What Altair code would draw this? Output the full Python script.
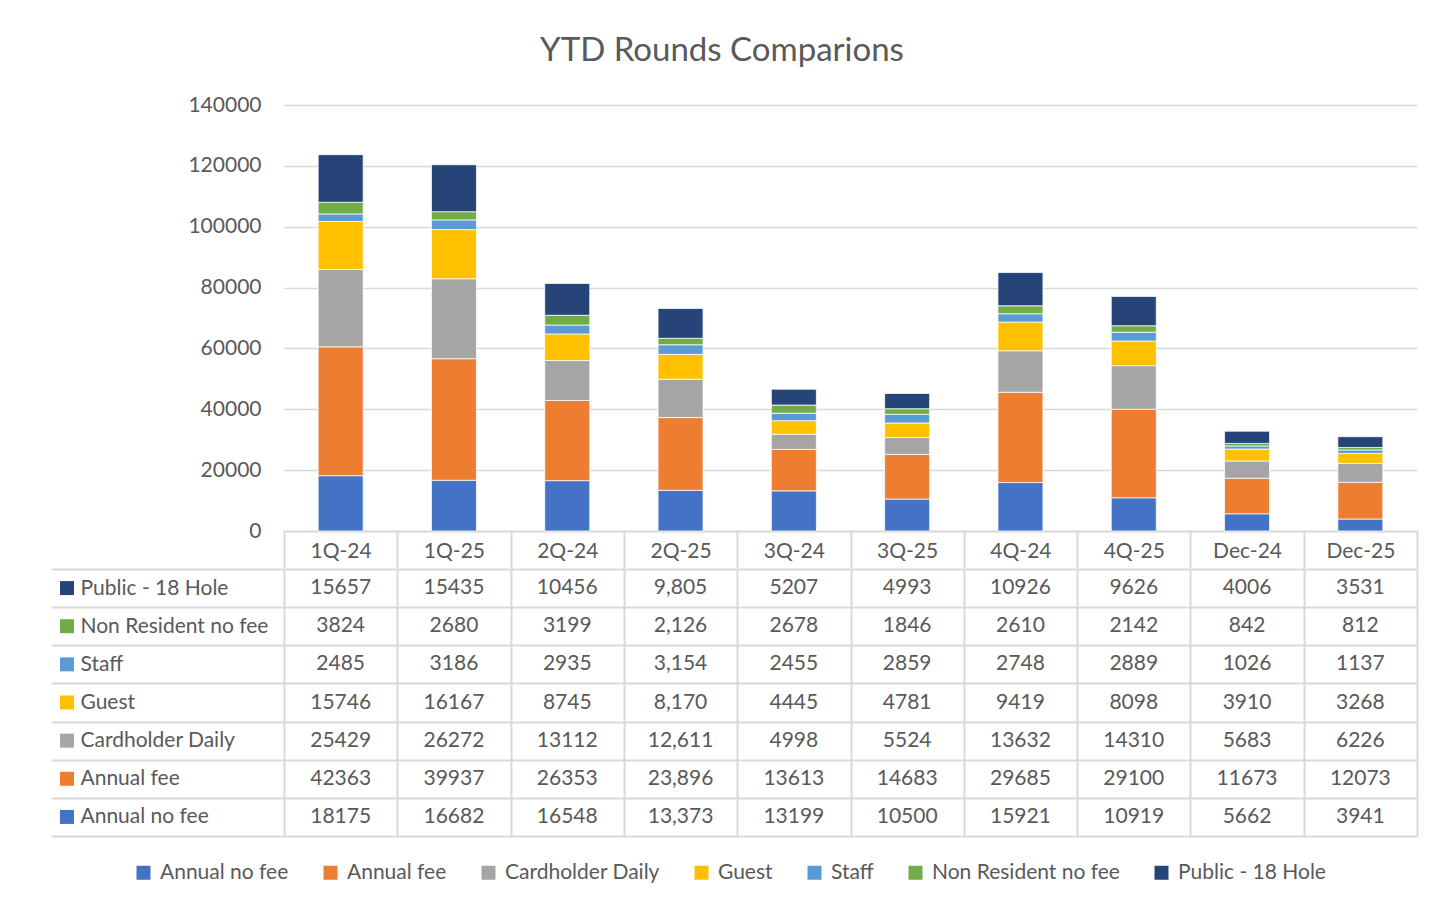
import altair as alt
import pandas as pd

# ---------------- data ----------------
categories = ["1Q-24", "1Q-25", "2Q-24", "2Q-25", "3Q-24", "3Q-25", "4Q-24", "4Q-25", "Dec-24", "Dec-25"]
series = ["Annual no fee", "Annual fee", "Cardholder Daily", "Guest", "Staff",
          "Non Resident no fee", "Public - 18 Hole"]
colors = ["#4472C4", "#ED7D31", "#A5A5A5", "#FFC000", "#5B9BD5", "#70AD47", "#264478"]

annual_no_fee = [18175, 16682, 16548, 13373, 13199, 10500, 15921, 10919, 5662, 3941]
annual_fee = [42363, 39937, 26353, 23896, 13613, 14683, 29685, 29100, 11673, 12073]
cardholder_daily = [25429, 26272, 13112, 12611, 4998, 5524, 13632, 14310, 5683, 6226]
guest = [15746, 16167, 8745, 8170, 4445, 4781, 9419, 8098, 3910, 3268]
staff = [2485, 3186, 2935, 3154, 2455, 2859, 2748, 2889, 1026, 1137]
non_resident_no_fee = [3824, 2680, 3199, 2126, 2678, 1846, 2610, 2142, 842, 812]
public_18_hole = [15657, 15435, 10456, 9805, 5207, 4993, 10926, 9626, 4006, 3531]

# the column whose values are printed with a thousands separator in the table
comma_columns = ["2Q-25"]

y_ticks = [0, 20000, 40000, 60000, 80000, 100000, 120000, 140000]

# ---------------- table ----------------
values_by_series = [annual_no_fee, annual_fee, cardholder_daily, guest, staff,
                    non_resident_no_fee, public_18_hole]
rows = []
for si, (name, vals) in enumerate(zip(series, values_by_series)):
    for cat, v in zip(categories, vals):
        rows.append({
            "series": name,
            "idx": si,
            "cat": cat,
            "value": v,
            "label": f"{v:,}" if cat in comma_columns else str(v),
        })
df = pd.DataFrame(rows)
sq_df = pd.DataFrame({"series": series})
row_order = list(reversed(series))

FONT = "Lato"
TXT = "#595959"
GRID = "#D9D9D9"
FS = 21

color_scale = alt.Scale(domain=series, range=colors)
band = alt.Scale(paddingInner=0, paddingOuter=0)

bars = alt.Chart(df).mark_bar(size=45, stroke="white", strokeWidth=0.75).encode(
    x=alt.X("cat:N", sort=categories, scale=band,
            axis=alt.Axis(title=None, labelAngle=0, labelFontSize=FS, labelColor=TXT, labelFont=FONT,
                          tickBand="extent", ticks=True, tickSize=37, tickColor=GRID, tickWidth=2,
                          domainColor=GRID, domainWidth=2, labelPadding=-28, grid=False)),
    y=alt.Y("value:Q", stack="zero", scale=alt.Scale(domain=[0, 140000], nice=False),
            axis=alt.Axis(title=None, values=y_ticks, format="d", labelFontSize=FS, labelColor=TXT,
                          labelFont=FONT, labelPadding=23, ticks=False, domain=False,
                          gridColor=GRID, gridWidth=1.5)),
    color=alt.Color("series:N", scale=color_scale,
                    legend=alt.Legend(title=None, orient="none", legendX=-151, legendY=757,
                                      direction="horizontal", symbolType="square", symbolSize=196,
                                      symbolStrokeWidth=0, symbolOpacity=1, labelFontSize=FS,
                                      labelColor=TXT, labelFont=FONT, labelOffset=6,
                                      columnPadding=31, labelLimit=400)),
    order=alt.Order("idx:Q", sort="ascending"),
).properties(width=1133, height=426)

y_table = alt.Y("series:N", sort=row_order, scale=band,
                axis=alt.Axis(title=None, labelAlign="left", labelPadding=-29, tickSize=233,
                              tickBand="extent", tickColor=GRID, tickWidth=2, grid=True,
                              gridColor=GRID, gridWidth=2, domain=False, labelFontSize=FS,
                              labelColor=TXT, labelFont=FONT, labelLimit=300))

table_text = alt.Chart(df).mark_text(fontSize=FS, color=TXT, font=FONT).encode(
    x=alt.X("cat:N", sort=categories, scale=band,
            axis=alt.Axis(title=None, labels=False, ticks=False, domain=False, grid=True,
                          tickBand="extent", gridColor=GRID, gridWidth=2)),
    y=y_table,
    text="label:N",
)

squares = alt.Chart(sq_df).mark_point(shape="square", size=196, filled=True, opacity=1).encode(
    x=alt.value(-217),
    y=y_table,
    color=alt.Color("series:N", scale=color_scale, legend=None),
)

table = alt.layer(table_text, squares).properties(width=1133, height=267)

chart = alt.vconcat(bars, table, spacing=-12).properties(
    title=alt.TitleParams("YTD Rounds Comparions", fontSize=33, font=FONT, color=TXT,
                          fontWeight="normal", anchor="middle", offset=26, dx=-12),
    padding={"left": 42, "top": 27, "right": 20, "bottom": 0},
    background="white",
).configure_view(strokeWidth=0)

chart.save("out.html", embed_options={"renderer": "svg", "actions": False})
